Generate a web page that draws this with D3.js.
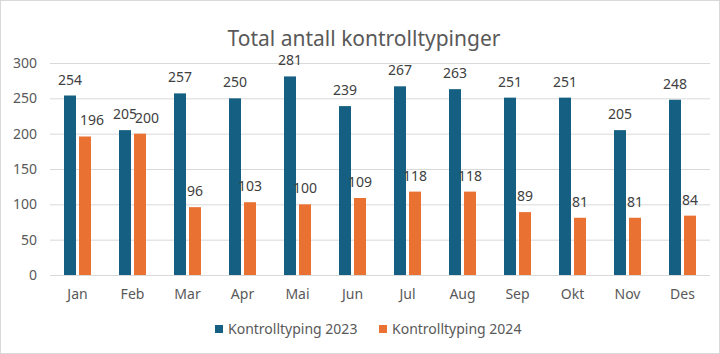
<!DOCTYPE html>
<html lang="no">
<head>
  <meta charset="UTF-8">
  <title>Total antall kontrolltypinger</title>
  <script src="https://cdn.jsdelivr.net/npm/d3@7"></script>
  <style>
    body{ margin:0; background:#fff; }
    .chart text{ font-family: "Noto Sans", sans-serif; }
  </style>
</head>
<body>
<div class="chart"></div>
<script>
  const months = ['Jan','Feb','Mar','Apr','Mai','Jun','Jul','Aug','Sep','Okt','Nov','Des'];
  const series = ['Kontrolltyping 2023', 'Kontrolltyping 2024'];
  const values2023 = [254, 205, 257, 250, 281, 239, 267, 263, 251, 251, 205, 248];
  const values2024 = [196, 200, 96, 103, 100, 109, 118, 118, 89, 81, 81, 84];
  const yTicks = [0, 50, 100, 150, 200, 250, 300];
  const colors = ['#156082', '#e97132'];

  const W = 720, H = 354;
  const plot = {left: 50, right: 710, top: 63, bottom: 275};

  const svg = d3.select('.chart').append('svg')
    .attr('width', W).attr('height', H);

  svg.append('rect')
    .attr('x', 0.5).attr('y', 0.5)
    .attr('width', W - 1).attr('height', H - 1)
    .attr('fill', '#fff').attr('stroke', '#d9d9d9');

  svg.append('text')
    .attr('x', 364).attr('y', 46)
    .attr('text-anchor', 'middle')
    .attr('font-size', 21)
    .attr('fill', '#595959')
    .text('Total antall kontrolltypinger');

  const y = d3.scaleLinear().domain([0, 300]).range([plot.bottom, plot.top]);
  const x0 = d3.scaleBand().domain(months).range([plot.left, plot.right]);
  const x1 = d3.scaleBand().domain(series).range([14, 41]).paddingInner(0.2);

  // gridlines + y labels
  const yAxis = d3.axisLeft(y).tickValues(yTicks)
    .tickSize(-(plot.right - plot.left)).tickPadding(13);
  const gy = svg.append('g')
    .attr('transform', `translate(${plot.left},0)`)
    .call(yAxis);
  gy.select('.domain').remove();
  gy.selectAll('line').attr('stroke', '#d9d9d9');
  gy.selectAll('text').attr('font-size', 14).attr('fill', '#595959');

  const xAxis = d3.axisBottom(x0).tickSize(0).tickPadding(14);
  const gx = svg.append('g')
    .attr('transform', `translate(0,${plot.bottom})`)
    .call(xAxis);
  gx.select('.domain').remove();
  gx.selectAll('text').attr('font-size', 14).attr('fill', '#595959');

  const rows = months.map((m, i) => ({month: m, vals: [values2023[i], values2024[i]]}));

  const grp = svg.selectAll('g.month')
    .data(rows).enter()
    .append('g').attr('class', 'month')
    .attr('transform', d => `translate(${x0(d.month)},0)`);

  const pairs = d => d.vals.map((v, k) => ({s: series[k], v: v, k: k, other: d.vals[1 - k]}));

  grp.selectAll('rect')
    .data(pairs)
    .enter().append('rect')
    .attr('x', d => x1(d.s))
    .attr('y', d => y(d.v))
    .attr('width', x1.bandwidth())
    .attr('height', d => plot.bottom - y(d.v))
    .attr('fill', d => colors[d.k]);

  // second label nudged right when the two labels sit close in height
  grp.selectAll('text.lbl')
    .data(pairs)
    .enter().append('text')
    .attr('class', 'lbl')
    .attr('x', d => x1(d.s) + x1.bandwidth() / 2 + (d.k === 1 && Math.abs(d.v - d.other) < 70 ? 7 : 0))
    .attr('y', d => y(d.v) - 11)
    .attr('text-anchor', 'middle')
    .attr('font-size', 14)
    .attr('fill', '#404040')
    .text(d => d.v);

  // legend
  const legX = [215, 379];
  const leg = svg.selectAll('g.leg')
    .data(series).enter()
    .append('g').attr('class', 'leg')
    .attr('transform', (d, i) => `translate(${legX[i]},329)`);
  leg.append('rect')
    .attr('x', 0).attr('y', -4).attr('width', 8).attr('height', 8)
    .attr('fill', (d, i) => colors[i]);
  leg.append('text')
    .attr('x', 13).attr('y', 5)
    .attr('font-size', 14).attr('fill', '#595959')
    .text(d => d);
</script>
</body>
</html>
